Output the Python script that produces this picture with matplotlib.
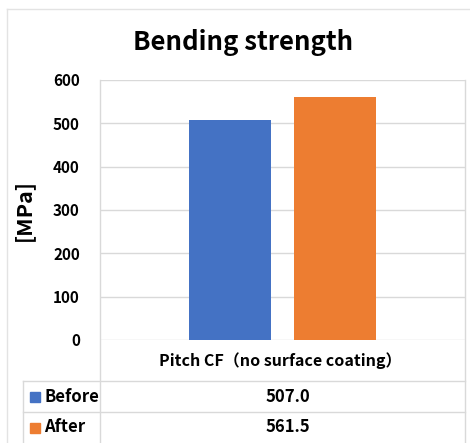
import matplotlib
matplotlib.use("Agg")
import matplotlib.pyplot as plt
from matplotlib.lines import Line2D
from matplotlib.patches import Rectangle

W, H = 470, 443
title = "Bending strength"
category = "Pitch CF（no surface coating）"
series = ["Before", "After"]
values = [507.0, 561.5]
colors = ["#4472C4", "#ED7D31"]
yticks = [0, 100, 200, 300, 400, 500, 600]
ylabel = "[MPa]"

FONT = ["Noto Sans CJK JP", "DejaVu Sans"]
plt.rcParams["font.family"] = FONT
plt.rcParams["font.weight"] = "bold"

fig = plt.figure(figsize=(W / 100, H / 100), dpi=100)

def fx(x):
    return x / W

def fy(y):
    return 1 - y / H

GRID = "#d9d9d9"

# plot area
L, R, T, B = 100, 465, 80, 340
ax = fig.add_axes([fx(L), fy(B), fx(R) - fx(L), fy(T) - fy(B)])
ax.set_xlim(-0.5, 0.5)
ax.set_ylim(0, 600)
offs = [-0.143, 0.143]
for v, c, o in zip(values, colors, offs):
    ax.bar(o, v, width=0.225, color=c, zorder=3)
ax.set_yticks(yticks)
ax.yaxis.grid(True, color=GRID, linewidth=1, zorder=0)
ax.set_xticks([])
ax.tick_params(axis="y", length=0, pad=14.5, labelsize=11)
for lbl in ax.get_yticklabels():
    lbl.set_fontweight("bold")
for s in ax.spines.values():
    s.set_visible(False)
ax.set_ylabel(ylabel, fontsize=15.5, fontweight="bold")
ax.yaxis.set_label_coords((34 - L) / (R - L), 0.5)

# outer chart border
fig.add_artist(Line2D([fx(7), fx(7)], [fy(9), fy(443)], color="#e3e3e3", lw=1))
fig.add_artist(Line2D([fx(7), fx(470)], [fy(9), fy(9)], color="#e3e3e3", lw=1))

# data table lines
rows = [340, 381, 412, 443]
TL = 23
fig.add_artist(Line2D([fx(L), fx(L)], [fy(T), fy(443)], color=GRID, lw=1))
fig.add_artist(Line2D([fx(R), fx(R)], [fy(T), fy(443)], color=GRID, lw=1))
fig.add_artist(Line2D([fx(TL), fx(TL)], [fy(381), fy(443)], color=GRID, lw=1))
fig.add_artist(Line2D([fx(TL), fx(R)], [fy(381), fy(381)], color=GRID, lw=1))
fig.add_artist(Line2D([fx(TL), fx(R)], [fy(412), fy(412)], color=GRID, lw=1))

cx = 280
fig.text(fx(cx), fy(361), category, ha="center", va="center", fontsize=11.5,
         fontweight="bold", family=FONT)
for i, (s, v, c) in enumerate(zip(series, values, colors)):
    yc = (rows[i + 1] + rows[i + 2]) / 2
    fig.add_artist(Rectangle((fx(30), fy(yc + 5)), 10 / W, 10 / H, color=c,
                             transform=fig.transFigure))
    fig.text(fx(44), fy(yc), s, ha="left", va="center", fontsize=12, fontweight="bold")
    fig.text(fx(288), fy(yc), f"{v:.1f}", ha="center", va="center", fontsize=12,
             fontweight="bold")

fig.text(fx(243), fy(42), title, ha="center", va="center", fontsize=18.5, fontweight="bold")

fig.savefig("out.png", dpi=100)
